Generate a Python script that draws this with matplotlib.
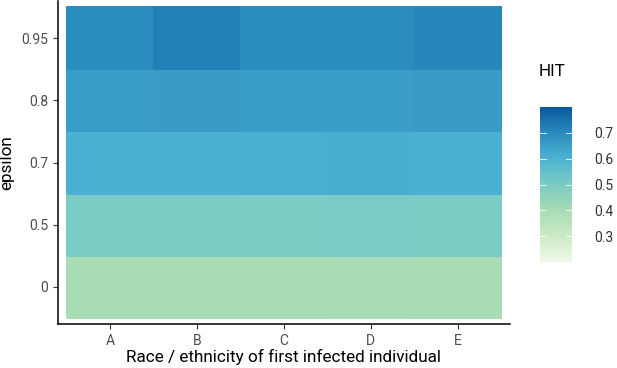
import numpy as np
import matplotlib
matplotlib.use("Agg")
import matplotlib.pyplot as plt
from matplotlib.colors import LinearSegmentedColormap, Normalize

plt.rcParams['font.family'] = ['Roboto', 'DejaVu Sans']

groups = ["A", "B", "C", "D", "E"]
epsilons = ["0", "0.5", "0.7", "0.8", "0.95"]
# HIT values: rows = epsilon (bottom to top), cols = groups
hit = np.array([
    [0.400, 0.400, 0.400, 0.403, 0.400],
    [0.500, 0.500, 0.500, 0.505, 0.502],
    [0.608, 0.608, 0.610, 0.612, 0.608],
    [0.656, 0.660, 0.654, 0.654, 0.660],
    [0.700, 0.722, 0.700, 0.700, 0.712],
])
legend_ticks = [0.3, 0.4, 0.5, 0.6, 0.7]

gnbu7 = ["#f0f9e8", "#ccebc5", "#a8ddb5", "#7bccc4", "#4eb3d3", "#2b8cbe", "#08589e"]
cmap = LinearSegmentedColormap.from_list("gnbu7", gnbu7, N=512)
norm = Normalize(vmin=0.2, vmax=0.8)

W, H = 617, 368
fig = plt.figure(figsize=(W / 100, H / 100), dpi=100)
ax = fig.add_axes([58 / W, 44 / H, (510 - 58) / W, (367 - 44) / H])

x = np.arange(1, len(groups) + 1)
y = np.arange(1, len(epsilons) + 1)
xe = np.append(x - 0.5, x[-1] + 0.5)
ye = np.append(y - 0.5, y[-1] + 0.5)
ax.pcolormesh(xe, ye, hit, cmap=cmap, norm=norm, edgecolors='face', linewidth=0.3)
ax.set_xlim(0.4, 5.6)
ax.set_ylim(0.4, 5.6)
ax.set_xticks(x)
ax.set_xticklabels(groups)
ax.set_yticks(y)
ax.set_yticklabels(epsilons)
for s in ["top", "right"]:
    ax.spines[s].set_visible(False)
for s in ["left", "bottom"]:
    ax.spines[s].set_linewidth(1.1)
    ax.spines[s].set_color("black")
ax.tick_params(axis='both', colors='#333333', labelcolor='#4d4d4d', labelsize=10, length=3.5, width=0.8)
ax.set_xlabel("Race / ethnicity of first infected individual", fontsize=12.3, color='black', labelpad=1)
ax.set_ylabel("epsilon", fontsize=12.3, color='black', labelpad=5)

# colorbar
cax = fig.add_axes([540 / W, (H - 262) / H, 32 / W, 155 / H])
grad = np.linspace(0.2, 0.8, 300).reshape(-1, 1)
cax.imshow(grad, aspect='auto', cmap=cmap, norm=norm, origin='lower', extent=[0, 1, 0.2, 0.8])
cax.set_xlim(0, 1)
cax.set_ylim(0.2, 0.8)
for s in cax.spines.values():
    s.set_visible(False)
cax.set_xticks([])
cax.set_yticks(legend_ticks)
cax.yaxis.tick_right()
cax.set_yticklabels([f"{t:.1f}" for t in legend_ticks])
cax.tick_params(axis='y', length=0, labelsize=10, labelcolor='#333333', pad=16)
for t in legend_ticks:
    cax.plot([0, 0.2], [t, t], color='white', lw=0.6)
    cax.plot([0.8, 1], [t, t], color='white', lw=0.6)
fig.text(539 / W, (H - 72) / H, "HIT", fontsize=12.3, color='black', va='center', ha='left')

fig.savefig("out.png", dpi=100)
